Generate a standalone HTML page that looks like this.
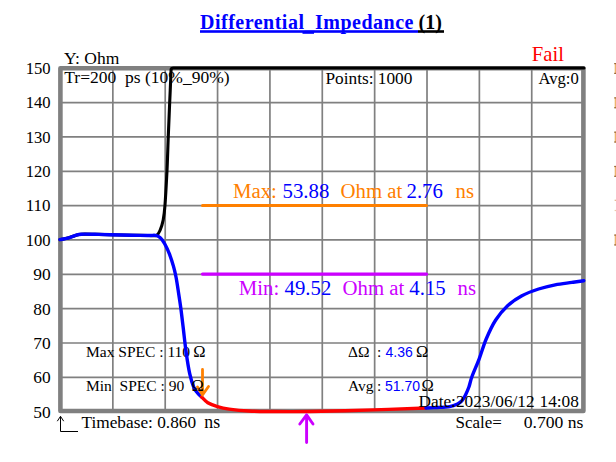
<!DOCTYPE html>
<html><head><meta charset="utf-8">
<style>
html,body{margin:0;padding:0;background:#fff;width:616px;height:462px;overflow:hidden}
svg{display:block}
text{font-family:"Liberation Serif",serif;white-space:pre;font-variant-ligatures:none}
.s{font-family:"Liberation Sans",sans-serif}
</style></head><body>
<svg width="616" height="462" viewBox="0 0 616 462">
<!-- grid -->
<g stroke="#808080" stroke-width="1.7" fill="none">
<path d="M112.85 68V411M165.21 68V411M217.57 68V411M269.93 68V411M322.29 68V411M374.65 68V411M427.01 68V411M479.37 68V411M531.73 68V411"/>
<path d="M60 102.60H583M60 136.94H583M60 171.28H583M60 205.62H583M60 239.96H583M60 274.30H583M60 308.64H583M60 342.98H583M60 377.32H583"/>
</g>
<rect x="60.4" y="68.3" width="523" height="342.7" fill="none" stroke="#808080" stroke-width="4.6" stroke-linejoin="round"/>

<!-- y labels -->
<g font-size="17.7" text-anchor="end" fill="#000">
<text x="50.6" y="73.9" textLength="24.9" lengthAdjust="spacingAndGlyphs">150</text>
<text x="50.6" y="108.3" textLength="24.9" lengthAdjust="spacingAndGlyphs">140</text>
<text x="50.6" y="142.6" textLength="24.9" lengthAdjust="spacingAndGlyphs">130</text>
<text x="50.6" y="177.0" textLength="24.9" lengthAdjust="spacingAndGlyphs">120</text>
<text x="50.6" y="211.4" textLength="24.9" lengthAdjust="spacingAndGlyphs">110</text>
<text x="50.6" y="245.8" textLength="24.9" lengthAdjust="spacingAndGlyphs">100</text>
<text x="50.6" y="280.1" textLength="17.4" lengthAdjust="spacingAndGlyphs">90</text>
<text x="50.6" y="314.5" textLength="17.4" lengthAdjust="spacingAndGlyphs">80</text>
<text x="50.6" y="348.9" textLength="17.4" lengthAdjust="spacingAndGlyphs">70</text>
<text x="50.6" y="383.2" textLength="17.4" lengthAdjust="spacingAndGlyphs">60</text>
<text x="50.6" y="417.6" textLength="17.4" lengthAdjust="spacingAndGlyphs">50</text>
</g>

<!-- title -->
<text x="200" y="28.5" font-size="20" font-weight="bold" fill="#0000ff" letter-spacing="0.5">Differential_Impedance</text>
<text x="418.5" y="28.5" font-size="20" font-weight="bold" fill="#000">(1)</text>
<rect x="200" y="30.2" width="218" height="2.6" fill="#0000ff"/>
<rect x="418" y="30.2" width="26" height="2.6" fill="#000"/>
<rect x="302.5" y="32" width="11.5" height="1.8" fill="#0000ff"/>

<text x="64" y="64.3" font-size="17.5">Y: Ohm</text>
<text x="531.8" y="61" font-size="20.7" fill="#ff0000">Fail</text>

<text x="64.3" y="83.4" font-size="17.5">Tr=200  ps (10%_90%)</text>
<text x="325.5" y="84" font-size="17.3">Points: 1000</text>
<text x="538.5" y="84" font-size="16.6">Avg:0</text>

<!-- max / min lines -->
<line x1="202.5" y1="205.5" x2="426.5" y2="205.5" stroke="#ff8000" stroke-width="3" stroke-linecap="round"/>
<line x1="202.5" y1="274.1" x2="426.5" y2="274.1" stroke="#cc00ff" stroke-width="3.4" stroke-linecap="round"/>

<g font-size="20.8">
<text x="233" y="197.5" fill="#ff8000">Max:</text>
<text x="282.5" y="197.5" fill="#0000ff">53.88</text>
<text x="340.5" y="197.5" fill="#ff8000">Ohm at</text>
<text x="406.5" y="197.5" fill="#0000ff">2.76</text>
<text x="455.5" y="197.5" fill="#ff8000">ns</text>

<text x="238.8" y="295" fill="#cc00ff">Min:</text>
<text x="284.5" y="295" fill="#0000ff">49.52</text>
<text x="342.5" y="295" fill="#cc00ff">Ohm at</text>
<text x="409.3" y="295" fill="#0000ff">4.15</text>
<text x="457.5" y="295" fill="#cc00ff">ns</text>
</g>

<g font-size="15.5">
<text x="86" y="357">Max SPEC : 110</text>
<text x="193.3" y="357" font-size="16.5">Ω</text>
<text x="348" y="357">ΔΩ</text>
<text x="377" y="357">:</text>
<text x="416" y="357" font-size="16.5">Ω</text>
<text x="348" y="391">Avg</text>
<text x="377" y="391">:</text>
<text x="421.5" y="391" font-size="16.5">Ω</text>
</g>
<g font-size="14" fill="#0000ff" class="s">
<text class="s" x="385.5" y="357">4.36</text>
<text class="s" x="385" y="391">51.70</text>
</g>

<!-- curves -->
<g fill="none" stroke-linecap="round" stroke-linejoin="round" stroke-width="3.4">
<path stroke="#000" stroke-width="3.1" d="M60.0 239.6C61.3 239.3 65.1 238.8 67.7 238.1C70.3 237.4 73.2 236.1 75.5 235.4C77.8 234.8 78.0 234.4 81.3 234.2C84.5 234.0 90.2 234.2 95.0 234.3C99.8 234.4 103.8 234.5 110.0 234.7C116.2 234.8 125.5 235.1 132.0 235.2C138.5 235.3 144.9 235.5 149.0 235.5C153.1 235.5 154.6 236.1 156.4 235.3C158.2 234.5 158.9 233.1 160.0 230.5C161.1 227.9 162.4 224.2 163.2 220.0C164.0 215.8 164.4 212.9 165.0 205.0C165.6 197.1 166.3 184.0 166.9 172.5C167.5 161.0 167.8 147.7 168.3 136.0C168.8 124.3 169.2 113.3 169.7 102.2C170.2 91.1 170.9 75.0 171.1 69.5 Q171.3 68 173.5 68H584"/>
<path stroke="#0000ff" d="M60.0 239.6C61.3 239.3 65.1 238.8 67.7 238.1C70.3 237.4 73.2 236.1 75.5 235.4C77.8 234.8 78.0 234.4 81.3 234.2C84.5 234.0 90.2 234.2 95.0 234.3C99.8 234.4 103.8 234.5 110.0 234.7C116.2 234.8 125.5 235.1 132.0 235.2C138.5 235.3 145.1 235.5 149.0 235.5C152.9 235.5 153.6 235.0 155.5 235.4C157.4 235.8 158.8 236.4 160.3 237.8C161.9 239.2 163.3 241.3 164.8 244.0C166.3 246.7 168.1 250.5 169.5 254.2C170.9 257.9 172.4 262.6 173.5 266.4C174.6 270.2 175.2 273.0 176.0 277.0C176.8 281.0 177.4 285.4 178.2 290.6C179.0 295.8 180.0 302.1 180.8 308.0C181.6 313.9 182.1 318.7 183.0 326.0C183.9 333.3 185.0 344.1 186.1 352.0C187.2 359.9 188.4 367.7 189.7 373.6C191.0 379.5 192.5 384.1 193.8 387.3C195.1 390.6 196.4 391.5 197.7 393.1C199.0 394.7 200.9 396.4 201.6 397.0"/>
<path stroke="#ff0000" d="M201.6 397.0C202.6 397.9 205.2 401.1 207.8 402.7C210.5 404.3 213.9 405.5 217.5 406.6C221.1 407.7 224.0 408.4 229.2 409.1C234.4 409.8 241.9 410.6 248.7 411.0C255.5 411.4 259.8 411.4 270.0 411.5C280.2 411.6 292.8 411.8 310.0 411.5C327.2 411.2 354.0 410.5 373.3 409.9C392.6 409.3 417.2 408.3 426.0 408.0"/>
<path stroke="#0000ff" d="M426.0 408.0C427.8 407.9 433.1 407.7 437.0 407.5C440.9 407.3 446.1 407.2 449.5 406.6C452.9 406.0 455.4 405.0 457.5 404.0C459.6 403.0 460.7 402.2 462.0 400.7C463.3 399.2 464.4 397.3 465.5 395.0C466.6 392.7 467.8 390.1 468.9 387.0C470.0 383.9 470.3 381.1 472.0 376.5C473.7 371.9 476.6 365.6 479.0 359.3C481.4 353.1 483.4 345.6 486.2 339.0C489.0 332.4 492.1 325.6 495.7 320.0C499.3 314.4 503.2 309.8 507.6 305.7C512.0 301.6 516.7 298.5 521.9 295.7C527.1 292.9 533.0 290.8 538.6 289.0C544.2 287.2 549.7 285.9 555.2 284.8C560.8 283.7 567.1 283.1 571.9 282.4C576.7 281.7 581.8 281.0 583.8 280.7"/>
</g>

<!-- arrows -->
<g fill="none" stroke="#ff8000" stroke-width="2.8" stroke-linecap="round" stroke-linejoin="round">
<path d="M202.5 369.5V395M197.5 387L202.5 395L208.5 386.5"/>
</g>
<g fill="none" stroke="#cc00ff" stroke-width="2.9" stroke-linecap="round" stroke-linejoin="round">
<path d="M306.6 415V442.5M299.8 424L306.6 414.8L313 424"/>
</g>

<text x="86" y="391" font-size="15.5">Min  SPEC : 90</text>
<text x="191.6" y="391" font-size="16.5">Ω</text>
<text x="418.5" y="407" font-size="17.3">Date:2023/06/12</text>
<text x="539.5" y="407" font-size="17.3">14:08</text>

<!-- bottom -->
<g fill="none" stroke="#000" stroke-width="1">
<path d="M60.5 416.5V431.5H78M57.3 421.2L60.5 416.3L63.7 421.2"/>
</g>
<text x="81.5" y="428" font-size="17.3">Timebase: 0.860</text>
<text x="204.3" y="428" font-size="17.8">ns</text>
<text x="455.5" y="428" font-size="17">Scale=</text>
<text x="523.8" y="428" font-size="17.6">0.700 ns</text>

<!-- right partial labels -->
<g>
<rect x="614.7" y="63" width="1.3" height="11" fill="#eeb36c"/>
<rect x="614.2" y="63" width="1.8" height="1.2" fill="#9a6a3c"/>
<rect x="614.2" y="72.8" width="1.8" height="1.2" fill="#9a6a3c"/>
<rect x="614.7" y="97.3" width="1.3" height="11" fill="#eeb36c"/>
<rect x="614.2" y="97.3" width="1.8" height="1.2" fill="#9a6a3c"/>
<rect x="614.2" y="107.1" width="1.8" height="1.2" fill="#9a6a3c"/>
<rect x="614.7" y="131.6" width="1.3" height="11" fill="#eeb36c"/>
<rect x="614.2" y="131.6" width="1.8" height="1.2" fill="#9a6a3c"/>
<rect x="614.2" y="141.4" width="1.8" height="1.2" fill="#9a6a3c"/>
<rect x="614.7" y="165.9" width="1.3" height="11" fill="#eeb36c"/>
<rect x="614.2" y="165.9" width="1.8" height="1.2" fill="#9a6a3c"/>
<rect x="614.2" y="175.70000000000002" width="1.8" height="1.2" fill="#9a6a3c"/>
<rect x="614.7" y="234.5" width="1.3" height="11" fill="#eeb36c"/>
<rect x="614.2" y="234.5" width="1.8" height="1.2" fill="#9a6a3c"/>
<rect x="614.2" y="244.3" width="1.8" height="1.2" fill="#9a6a3c"/>
<rect x="614.6" y="199.7" width="1.4" height="1.2" fill="#e2b58a"/>
<rect x="614.6" y="209.9" width="1.4" height="1.2" fill="#eccaa8"/>
</g>
</svg>
</body></html>
